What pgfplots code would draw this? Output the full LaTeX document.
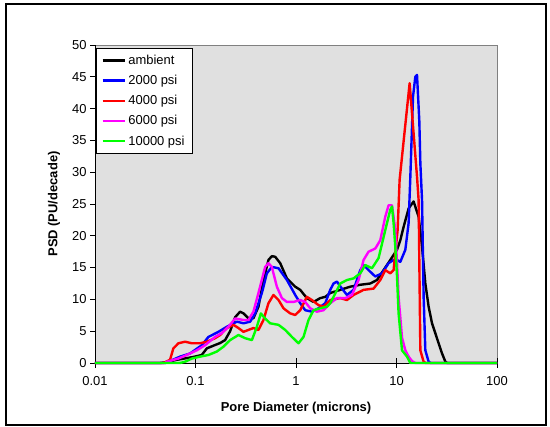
\documentclass[border=0pt]{standalone}
\usepackage{fontspec}
\setmainfont{Liberation Sans}
\usepackage{pgfplots}
\pgfplotsset{compat=1.18}
\definecolor{plotbg}{RGB}{224,224,224}
\definecolor{bordergray}{RGB}{128,128,128}
\definecolor{xlblue}{RGB}{0,0,255}
\definecolor{xlred}{RGB}{255,0,0}
\definecolor{xlmagenta}{RGB}{255,0,255}
\definecolor{xlgreen}{RGB}{0,255,0}
\begin{document}
\begin{tikzpicture}
\path (0,0) rectangle (550bp,427bp);
\draw[line width=1.2bp] (6bp,2bp) rectangle (546bp,423bp);
\begin{axis}[
  at={(95bp,64bp)}, anchor=south west,
  scale only axis, width=402bp, height=318bp,
  xmode=log, xmin=0.01, xmax=100,
  ymin=0, ymax=50,
  xtick=\empty,
  extra x ticks={0.01,0.1,1,10,100},
  extra x tick labels={0.01,0.1,1,10,100},
  extra x tick style={tick align=center, major tick length=10bp,
    xticklabel style={yshift=-5bp}},
  minor xtick={0.02,0.03,0.04,0.05,0.06,0.07,0.08,0.09,0.2,0.3,0.4,0.5,0.6,0.7,0.8,0.9,2,3,4,5,6,7,8,9,20,30,40,50,60,70,80,90},
  ytick={0,5,...,50},
  axis background/.style={fill=plotbg, draw=bordergray, line width=0.8bp},
  axis x line*=bottom, axis y line*=left,
  axis line style={black, line width=0.8bp, -},
  tick align=outside,
  major tick length=5bp, minor tick length=4bp,
  tick style={black, line width=0.8bp},
  /pgf/number format/assume math mode=true,
  tick label style={font=\fontsize{13}{15}\selectfont},
  xlabel={\textbf{Pore Diameter (microns)}},
  ylabel={\textbf{PSD (PU/decade)}},
  label style={font=\fontsize{13}{15}\selectfont},
  xlabel style={at={(axis description cs:0.5,-0.143)}, anchor=center},
  ylabel style={at={(axis description cs:-0.102,0.5)}, anchor=center},
  clip=false,
  legend cell align=left,
  legend style={at={(0.0025,0.99)}, anchor=north west, fill=white, draw=black,
    line width=0.8bp, font=\fontsize{13}{15}\selectfont,
    inner xsep=5bp, inner ysep=5.5bp, row sep=7.3bp,
    nodes={inner xsep=2.5bp, inner ysep=1bp}},
  legend image code/.code={\draw[#1, line width=2.5bp] (0bp,0bp) -- (22bp,0bp);},
  every axis plot/.append style={line width=2.4bp, line join=round},
]
% ambient
\addplot[black] coordinates {
(0.01,0) (0.0444,0) (0.0498,0.1) (0.0651,0.5) (0.0946,0.94) (0.1155,1.26) (0.1296,2.3)
(0.1567,2.83) (0.1758,3.14) (0.197,3.6) (0.221,5.0) (0.248,7.2) (0.278,8.07) (0.300,7.81)
(0.3365,7.03) (0.377,7.03) (0.423,8.85) (0.4746,13.05) (0.532,16.2) (0.575,16.8) (0.621,16.7)
(0.696,15.7) (0.812,13.3) (0.982,12.0) (1.101,11.5) (1.284,10.2) (1.494,9.6) (1.742,10.2)
(1.954,10.4) (2.191,11.0) (2.755,11.5) (3.466,12.0) (4.359,12.3) (5.483,12.5) (6.395,13.05)
(7.439,14.6) (8.675,16.2) (10.12,17.8) (10.91,19.3) (11.77,21.4) (13.20,24.3) (14.80,25.4)
(16.60,23.0) (17.95,18.3) (19.36,12.5) (20.88,8.85) (22.57,6.24) (26.26,3.1) (28.39,1.5)
(30.63,0.2) (32,0) (100,0)
};
\addlegendentry{ambient}
% 2000 psi
\addplot[xlblue] coordinates {
(0.01,0) (0.05,0) (0.0537,0.2) (0.0702,1.0) (0.0884,1.5) (0.1155,2.8) (0.1345,4.1)
(0.169,4.9) (0.205,5.7) (0.258,6.5) (0.300,6.24) (0.350,6.5) (0.392,7.8) (0.4575,11.0)
(0.513,14.1) (0.575,15.1) (0.670,14.9) (0.812,13.05) (0.982,10.7) (1.101,9.4) (1.235,8.3)
(1.440,8.07) (1.675,8.6) (1.954,9.4) (2.191,11.5) (2.364,12.5) (2.555,12.8) (2.865,11.7)
(3.214,10.7) (3.739,11.5) (4.359,14.6) (4.703,15.4) (5.275,14.6) (6.150,13.6) (7.171,14.1)
(8.344,15.7) (9.356,16.2) (10.12,16.2) (10.91,15.9) (12.24,17.8) (13.20,22.0) (13.73,29.3)
(14.60,41.9) (15.39,45.0) (16.00,45.3) (16.87,38.0) (17.27,31.4) (17.95,25.6) (18.62,10.4)
(19.36,2.0) (20.88,0.2) (22,0) (100,0)
};
\addlegendentry{2000 psi}
% 4000 psi
\addplot[xlred] coordinates {
(0.01,0) (0.0479,0) (0.0558,0.5) (0.0602,2.3) (0.0676,3.1) (0.0788,3.35) (0.0919,3.1)
(0.111,3.1) (0.1296,3.35) (0.1567,3.9) (0.1758,4.4) (0.205,5.5) (0.2385,6.0) (0.2675,5.5)
(0.300,4.9) (0.3365,5.2) (0.377,5.5) (0.423,5.2) (0.4746,6.76) (0.532,9.4) (0.597,10.7)
(0.670,9.9) (0.751,8.6) (0.876,7.8) (0.982,7.55) (1.101,8.3) (1.284,10.4) (1.440,9.9)
(1.675,9.1) (1.879,8.85) (2.191,9.9) (2.755,10.2) (3.214,9.9) (3.739,10.7) (4.703,11.5)
(5.915,11.7) (6.896,13.05) (7.735,14.6) (8.675,14.1) (9.356,14.6) (10.26,20.9) (10.74,28.8)
(13.51,44.0) (16.00,29.3) (16.60,25.6) (17.27,2.0) (18.62,0.2) (19.5,0) (100,0)
};
\addlegendentry{4000 psi}
% 6000 psi
\addplot[xlmagenta] coordinates {
(0.01,0) (0.05,0) (0.0518,0.2) (0.0676,0.7) (0.0819,1.26) (0.103,2.0) (0.1246,2.8)
(0.1567,4.1) (0.1828,4.7) (0.2127,5.7) (0.248,7.0) (0.300,6.76) (0.3365,6.76) (0.377,8.07)
(0.423,11.0) (0.493,15.1) (0.532,15.7) (0.575,15.1) (0.645,12.0) (0.724,10.2) (0.812,9.6)
(0.944,9.6) (1.101,9.9) (1.235,9.6) (1.385,8.6) (1.615,8.07) (1.879,8.3) (2.191,9.4)
(2.555,10.2) (3.090,10.2) (3.605,10.7) (4.194,13.05) (4.703,16.2) (5.275,17.5) (6.150,18.0)
(6.896,19.3) (7.735,23.0) (8.344,24.8) (9.021,24.8) (9.728,21.0) (10.12,15.7) (10.49,10.4)
(11.34,4.0) (12.24,2.0) (13.20,1.0) (14.27,0.3) (15.39,0) (100,0)
};
\addlegendentry{6000 psi}
% 10000 psi
\addplot[xlgreen] coordinates {
(0.01,0) (0.07,0) (0.0788,0.2) (0.0919,0.7) (0.111,1.0) (0.1345,1.26) (0.163,1.8)
(0.1896,2.56) (0.221,3.6) (0.2675,4.4) (0.312,3.9) (0.364,3.6) (0.408,5.7) (0.447,7.8)
(0.493,7.0) (0.553,6.24) (0.670,6.0) (0.781,5.2) (0.911,4.1) (1.059,3.1) (1.188,4.1)
(1.332,6.76) (1.494,8.3) (1.742,8.6) (2.032,8.85) (2.191,9.4) (2.364,10.4) (2.755,12.5)
(3.214,13.05) (3.739,13.3) (4.359,14.1) (4.889,15.4) (5.702,14.9) (6.633,16.5) (7.735,20.9)
(8.675,24.1) (9.021,24.6) (9.356,22.0) (9.728,18.3) (10.12,13.6) (10.49,7.8) (11.34,2.0)
(12.72,1.0) (13.73,0) (100,0)
};
\addlegendentry{10000 psi}
\end{axis}
\end{tikzpicture}
\end{document}
